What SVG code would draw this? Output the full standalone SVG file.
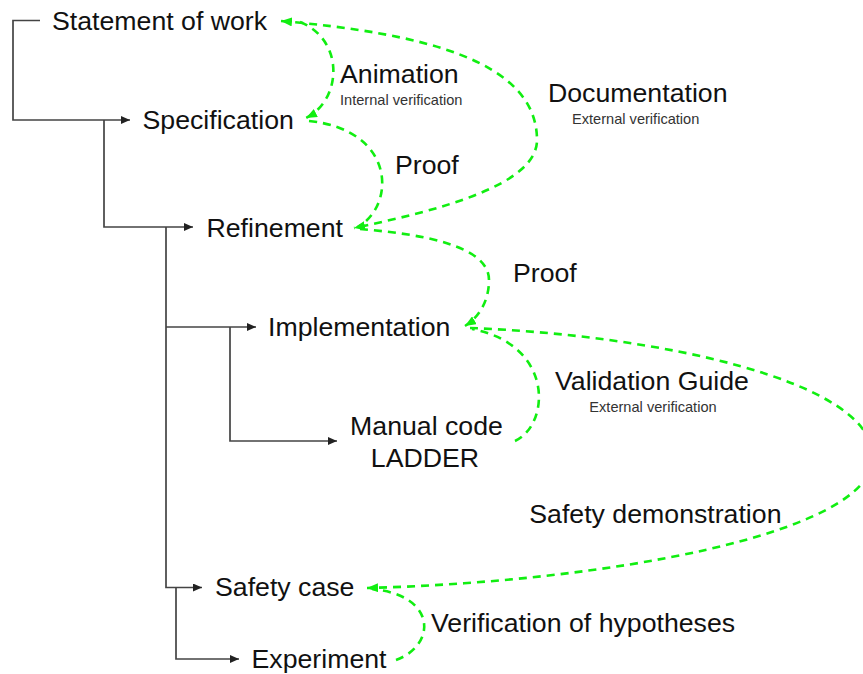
<svg xmlns="http://www.w3.org/2000/svg" width="863" height="674" viewBox="0 0 863 674">
<style>
  .lbl { font-family: "Liberation Sans", Arial, sans-serif; font-size: 26.7px; fill: #111; }
  .sub { font-family: "Liberation Sans", Arial, sans-serif; font-size: 14.6px; fill: #333; }
  .tree { fill: none; stroke: #444; stroke-width: 1.7; }
  .green { fill: none; stroke: #11ee11; stroke-width: 2.6; stroke-dasharray: 8 6; }
</style>
<defs>
  <marker id="ta" markerUnits="userSpaceOnUse" markerWidth="9" markerHeight="8" viewBox="0 0 9 8" refX="9" refY="4" orient="auto">
    <path d="M0,0 L9,4 L0,8 z" fill="#222"/>
  </marker>
  <marker id="ga" markerUnits="userSpaceOnUse" markerWidth="11" markerHeight="9" viewBox="0 0 11 9" refX="11" refY="4.5" orient="auto-start-reverse">
    <path d="M0,0 L11,4.5 L0,9 z" fill="#11ee11"/>
  </marker>
</defs>
<rect width="863" height="674" fill="#ffffff"/>

<g id="connectors">
  <path class="tree" d="M40 20.5 H13 V120 H130" marker-end="url(#ta)"/>
  <path class="tree" d="M104 120 V227 H193" marker-end="url(#ta)"/>
  <path class="tree" d="M166 227 V587.5 H202" marker-end="url(#ta)"/>
  <path class="tree" d="M166 327 H256" marker-end="url(#ta)"/>
  <path class="tree" d="M230 327 V441 H337" marker-end="url(#ta)"/>
  <path class="tree" d="M176 587.5 V659 H239" marker-end="url(#ta)"/>

  <path class="green" d="M300 22 C345 40, 342 100, 306 118" marker-end="url(#ga)"/>
  <path class="green" d="M281 21 C420 33, 537 60, 537 140 C537 185, 440 210, 354 228" marker-start="url(#ga)" marker-end="url(#ga)"/>
  <path class="green" d="M309 121 C396 130, 396 205, 358 227"/>
  <path class="green" d="M360 229 C420 234, 489 245, 489 280 C489 302, 478 318, 465 326" marker-end="url(#ga)"/>
  <path class="green" d="M515 441 C550 425, 555 345, 472 329"/>
  <path class="green" d="M470 328 C655 335, 873 380, 873 457 C873 535, 600 582, 367 588" marker-end="url(#ga)"/>
  <path class="green" d="M396 660 C437 645, 437 595, 372 589"/>
</g>

<g id="statement-of-work"><text class="lbl" x="52" y="30">Statement of work</text></g>
<g id="specification"><text class="lbl" x="142.5" y="129">Specification</text></g>
<g id="refinement"><text class="lbl" x="206.5" y="236.5">Refinement</text></g>
<g id="implementation"><text class="lbl" x="268" y="335.7">Implementation</text></g>
<g id="manual-code">
  <text class="lbl" x="426.5" y="435" text-anchor="middle">Manual code</text>
  <text class="lbl" x="425" y="467" text-anchor="middle">LADDER</text>
</g>
<g id="safety-case"><text class="lbl" x="215" y="596">Safety case</text></g>
<g id="experiment"><text class="lbl" x="251.5" y="668">Experiment</text></g>

<g id="labels">
  <text class="lbl" x="340" y="83.3">Animation</text>
  <text class="sub" x="340" y="105">Internal verification</text>
  <text class="lbl" x="395" y="174">Proof</text>
  <text class="lbl" x="548" y="102">Documentation</text>
  <text class="sub" x="572" y="124">External verification</text>
  <text class="lbl" x="513" y="281.7">Proof</text>
  <text class="lbl" x="555" y="390">Validation Guide</text>
  <text class="sub" x="589.3" y="411.7">External verification</text>
  <text class="lbl" x="529.3" y="523.3">Safety demonstration</text>
  <text class="lbl" x="431" y="632">Verification of hypotheses</text>
</g>
</svg>
